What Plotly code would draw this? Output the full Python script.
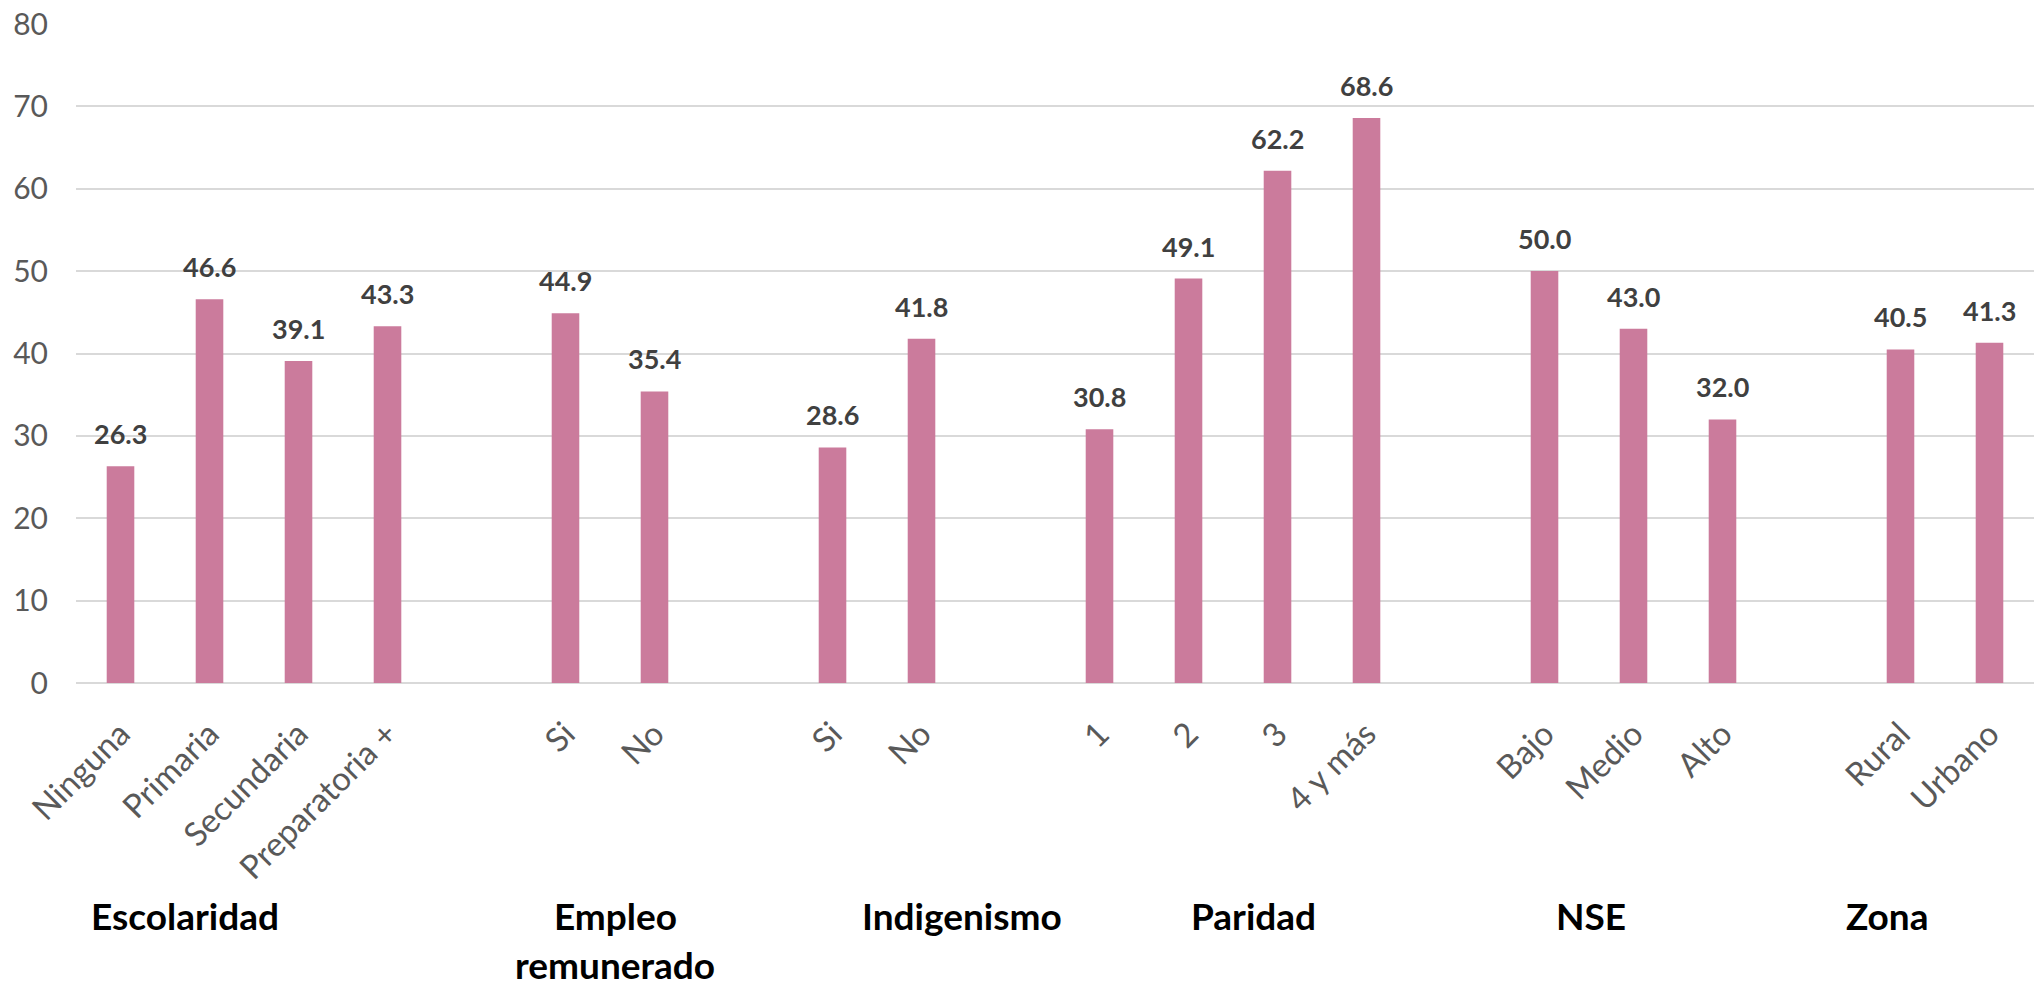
import plotly.graph_objects as go

# Data
groups = ["Escolaridad", "Empleo", "Indigenismo", "Paridad", "NSE", "Zona"]
group_subtitles = ["", "remunerado", "", "", "", ""]
group_categories = [
    ["Ninguna", "Primaria", "Secundaria", "Preparatoria +"],
    ["Si", "No"],
    ["Si", "No"],
    ["1", "2", "3", "4 y más"],
    ["Bajo", "Medio", "Alto"],
    ["Rural", "Urbano"],
]
group_values = [
    [26.3, 46.6, 39.1, 43.3],
    [44.9, 35.4],
    [28.6, 41.8],
    [30.8, 49.1, 62.2, 68.6],
    [50.0, 43.0, 32.0],
    [40.5, 41.3],
]
y_ticks = [0, 10, 20, 30, 40, 50, 60, 70, 80]

# Layout: one empty slot between groups
xs, labels, vals = [], [], []
pos = 0
for cats, vs in zip(group_categories, group_values):
    for c, v in zip(cats, vs):
        xs.append(pos)
        labels.append(c)
        vals.append(v)
        pos += 1
    pos += 1

BAR = "#CB7B9C"
fig = go.Figure(go.Bar(
    x=xs, y=vals, width=0.31, marker=dict(color=BAR, line=dict(width=0)),
    hoverinfo="skip",
))

# value labels
for x, v in zip(xs, vals):
    fig.add_annotation(x=x, y=v, xref="x", yref="y", text=f"{v:.1f}", showarrow=False,
                       yanchor="bottom", xanchor="center", yshift=14,
                       font=dict(family="Lato", size=27, color="#404040", weight="bold"))

# group label horizontal positions (hand placed in the original)
group_label_x = [0.72, 5.56, 9.46, 12.73, 16.52, 19.85]
gfont = dict(family="Lato", size=37, color="#000000", weight="bold")
for g, sub, gx in zip(groups, group_subtitles, group_label_x):
    fig.add_annotation(x=gx, y=0, xref="x", yref="paper", text=g, showarrow=False,
                       yshift=-232, yanchor="middle", xanchor="center", font=gfont)
    if sub:
        fig.add_annotation(x=gx, y=0, xref="x", yref="paper", text=sub, showarrow=False,
                           yshift=-281, yanchor="middle", xanchor="center", font=gfont)

fig.update_layout(
    width=2041, height=986,
    margin=dict(l=76, r=7, t=24, b=303),
    paper_bgcolor="white", plot_bgcolor="white",
    showlegend=False,
    font=dict(family="Lato"),
    xaxis=dict(range=[-0.5, pos - 1.5], tickmode="array", tickvals=xs, ticktext=labels,
               tickangle=-45, showgrid=False, zeroline=False, showline=False,
               tickfont=dict(family="Lato", size=33, color="#595959"), ticks="",
               ticklabelstandoff=24, automargin=False),
    yaxis=dict(range=[0, 80], tickmode="array", tickvals=y_ticks,
               showgrid=True, gridcolor="#D9D9D9", gridwidth=1.5,
               zeroline=True, zerolinecolor="#D9D9D9", zerolinewidth=1.5,
               tickfont=dict(family="Lato", size=30, color="#595959"),
               ticklabelstandoff=27, showline=False, automargin=False,
               ticklabeloverflow="allow"),
)

fig.write_html("out.html",
               config={"displayModeBar": False},
               post_script="document.body.style.margin='0';document.body.style.overflow='hidden';")
